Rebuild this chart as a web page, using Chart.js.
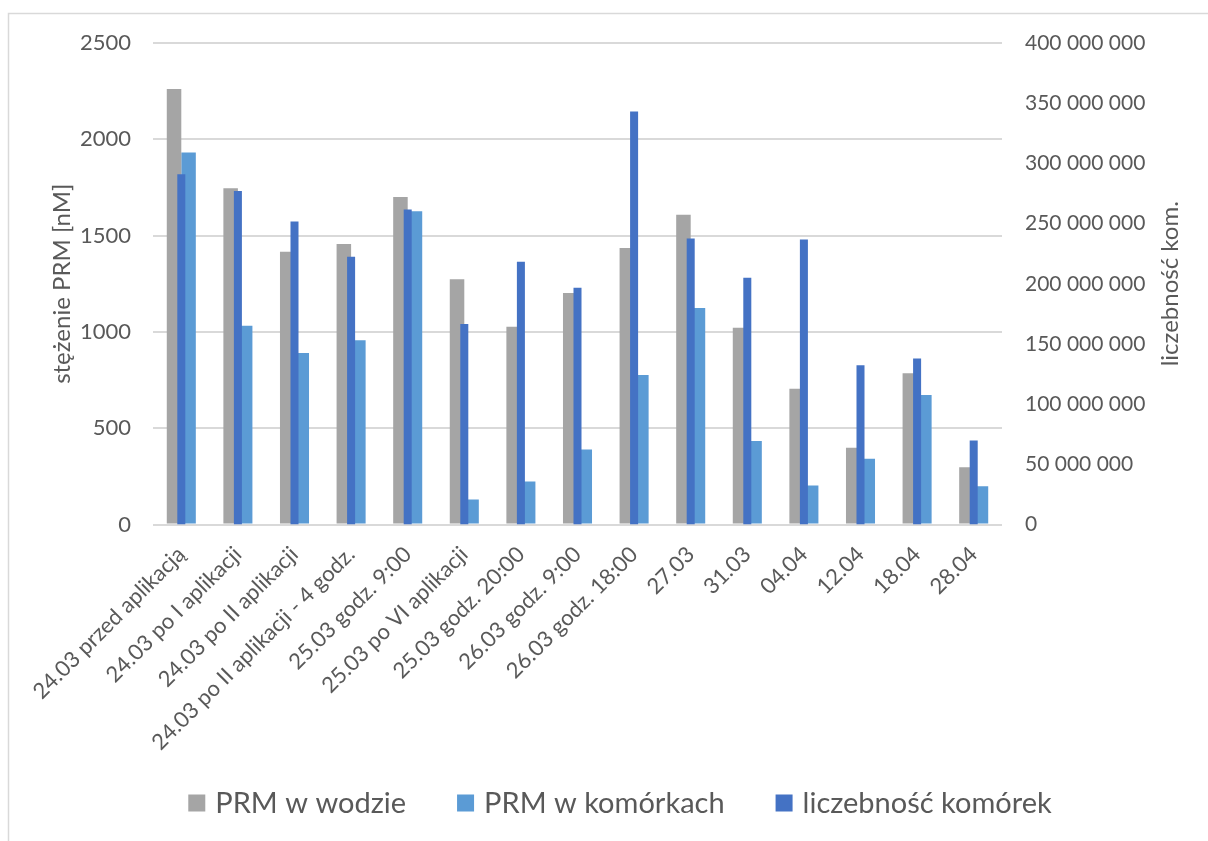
<!DOCTYPE html>
<html lang="pl">
<head>
<meta charset="utf-8">
<title>PRM – stężenie i liczebność komórek</title>
<script src="https://cdn.jsdelivr.net/npm/chart.js@4.4.1/dist/chart.umd.min.js"></script>
<style>
  html, body { margin: 0; padding: 0; background: #ffffff; }
  #wrap { width: 1208px; height: 841px; position: relative; }
  canvas { display: block; }
</style>
</head>
<body>
<div id="wrap"><canvas id="chart" width="1208" height="841"></canvas></div>
<script>
// Sampling points (x axis)
const categories = [
  '24.03 przed aplikacją',
  '24.03 po I aplikacji',
  '24.03 po II aplikacji',
  '24.03 po II aplikacji - 4 godz.',
  '25.03 godz. 9:00',
  '25.03 po VI aplikacji',
  '25.03 godz. 20:00',
  '26.03 godz. 9:00',
  '26.03 godz. 18:00',
  '27.03',
  '31.03',
  '04.04',
  '12.04',
  '18.04',
  '28.04'
];

// PRM concentration in water [nM] (left axis)
const prmWater = [2261, 1746, 1416, 1457, 1701, 1274, 1027, 1202, 1435, 1608, 1022, 705, 398, 785, 297];

// PRM concentration in cells [nM] (left axis)
const prmCells = [1931, 1032, 890, 956, 1627, 130, 223, 389, 776, 1124, 434, 202, 341, 673, 199];

// Cell count (right axis)
const cellCount = [
  291000000, 277000000, 251700000, 222400000, 261700000, 166500000, 218300000, 196700000,
  343000000, 237600000, 205000000, 236800000, 132200000, 137800000, 69700000
];

// Axis tick values
const leftTicks = [0, 500, 1000, 1500, 2000, 2500];
const rightTicks = [0, 50000000, 100000000, 150000000, 200000000, 250000000, 300000000, 350000000, 400000000];

const seriesNames = ['PRM w wodzie', 'PRM w komórkach', 'liczebność komórek'];
const leftTitle = 'stężenie PRM [nM]';
const rightTitle = 'liczebność kom.';

const FONT = 'Lato, "Open Sans", sans-serif';
const TEXT = '#595959';
const GRID = '#d9d9d9';

// Group digits with spaces: 400000000 -> "400 000 000"
function spaced(v) {
  return String(Math.round(v)).replace(/\B(?=(\d{3})+(?!\d))/g, ' ');
}

// Chart frame (top + left edge) and white background
const framePlugin = {
  id: 'frame',
  beforeDraw(chart) {
    const ctx = chart.ctx;
    ctx.save();
    ctx.fillStyle = '#ffffff';
    ctx.fillRect(0, 0, chart.width, chart.height);
    ctx.strokeStyle = GRID;
    ctx.lineWidth = 1.5;
    ctx.beginPath();
    ctx.moveTo(8.5, chart.height);
    ctx.lineTo(8.5, 13.5);
    ctx.lineTo(chart.width, 13.5);
    ctx.stroke();
    ctx.restore();
  }
};

// Vertical axis titles, both reading bottom-to-top
const axisTitlesPlugin = {
  id: 'axisTitles',
  afterDraw(chart) {
    const ctx = chart.ctx;
    const area = chart.chartArea;
    const midY = (area.top + area.bottom) / 2;
    ctx.save();
    ctx.fillStyle = TEXT;
    ctx.font = '24px ' + FONT;
    ctx.textAlign = 'center';
    ctx.textBaseline = 'middle';
    [[62, leftTitle], [1170, rightTitle]].forEach(([x, txt]) => {
      ctx.save();
      ctx.translate(x, midY);
      ctx.rotate(-Math.PI / 2);
      ctx.fillText(txt, 0, 0);
      ctx.restore();
    });
    ctx.restore();
  }
};

// Widely spaced legend row under the chart, built from the datasets
const legendRowPlugin = {
  id: 'legendRow',
  afterDraw(chart) {
    const ctx = chart.ctx;
    const box = 17, gapText = 10, gapItem = 51, cy = 803, centerX = 620;
    ctx.save();
    ctx.font = '29px ' + FONT;
    ctx.textBaseline = 'middle';
    ctx.textAlign = 'left';
    const items = chart.data.datasets.map(ds => ({
      text: ds.label, color: ds.backgroundColor, w: ctx.measureText(ds.label).width
    }));
    const total = items.reduce((s, it) => s + box + gapText + it.w, 0) + gapItem * (items.length - 1);
    let x = centerX - total / 2;
    items.forEach(it => {
      ctx.fillStyle = it.color;
      ctx.fillRect(x, cy - box / 2, box, box);
      ctx.fillStyle = TEXT;
      ctx.fillText(it.text, x + box + gapText, cy + 1);
      x += box + gapText + it.w + gapItem;
    });
    ctx.restore();
  }
};

const ctx = document.getElementById('chart').getContext('2d');
new Chart(ctx, {
  type: 'bar',
  data: {
    labels: categories,
    datasets: [
      {
        label: seriesNames[0],
        data: prmWater,
        backgroundColor: '#a5a5a5',
        yAxisID: 'y',
        order: 1,
        categoryPercentage: 0.513,
        barPercentage: 1.0
      },
      {
        label: seriesNames[1],
        data: prmCells,
        backgroundColor: '#5b9bd5',
        yAxisID: 'y',
        order: 1,
        categoryPercentage: 0.513,
        barPercentage: 1.0
      },
      {
        label: seriesNames[2],
        data: cellCount,
        backgroundColor: '#4472c4',
        yAxisID: 'y2',
        order: 0,
        grouped: false,
        barPercentage: 0.177
      }
    ]
  },
  options: {
    responsive: false,
    animation: false,
    layout: { padding: { left: 32, right: 0, top: 43, bottom: 76.5 } },
    plugins: {
      legend: { display: false },
      tooltip: { enabled: false }
    },
    scales: {
      x: {
        grid: { display: false },
        border: { display: false },
        ticks: {
          color: TEXT,
          font: { family: FONT, size: 22 },
          minRotation: 45,
          maxRotation: 45,
          autoSkip: false,
          padding: 9
        },
        afterFit(scale) { scale.height = 240; }
      },
      y: {
        position: 'left',
        min: leftTicks[0],
        max: leftTicks[leftTicks.length - 1],
        afterBuildTicks(scale) { scale.ticks = leftTicks.map(v => ({ value: v })); },
        grid: { color: GRID, lineWidth: 2, drawTicks: false },
        border: { display: false },
        ticks: {
          color: TEXT,
          font: { family: FONT, size: 22 },
          padding: 22,
          callback: (v) => String(v)
        },
        afterFit(scale) { scale.width = 121; }
      },
      y2: {
        position: 'right',
        min: rightTicks[0],
        max: rightTicks[rightTicks.length - 1],
        afterBuildTicks(scale) { scale.ticks = rightTicks.map(v => ({ value: v })); },
        grid: { display: false, drawTicks: false },
        border: { display: false },
        ticks: {
          color: TEXT,
          font: { family: FONT, size: 21 },
          padding: 23,
          callback: (v) => spaced(v)
        },
        afterFit(scale) { scale.width = 206; }
      }
    }
  },
  plugins: [framePlugin, axisTitlesPlugin, legendRowPlugin]
});
</script>
</body>
</html>
